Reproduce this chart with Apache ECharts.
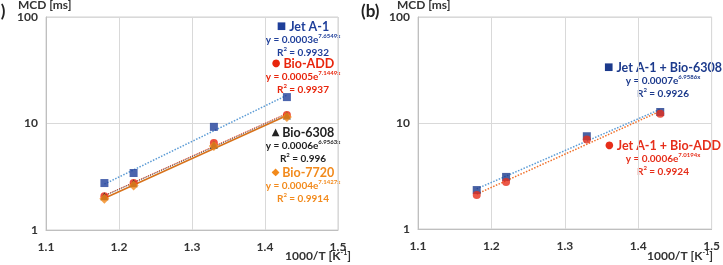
<!DOCTYPE html>
<html>
<head>
<meta charset="utf-8">
<script src="https://cdn.jsdelivr.net/npm/echarts@6/dist/echarts.min.js"></script>
<style>
  html, body { margin: 0; padding: 0; background: #fff; }
  #chart { width: 723px; height: 265px; }
</style>
</head>
<body>
<div id="chart"></div>
<script>
// 1000/T values (same for every fuel)
const invT = [1.18, 1.22, 1.33, 1.43];

// panel (a) MCD [ms]
const jetA1 = [2.76, 3.43, 9.3, 17.7];
const bioADD = [2.08, 2.76, 6.55, 12.0];
const bio6308 = [2.07, 2.75, 6.3, 11.9];
const bio7720 = [1.96, 2.62, 6.15, 11.5];

// panel (b) MCD [ms]
const jetBio6308 = [2.33, 3.1, 7.5, 12.7];
const jetBioADD = [2.09, 2.78, 7.0, 12.2];

const FONT = 'Lato';

// exponential trend line (least squares on ln y), drawn between first and last x
function expTrend(xs, ys) {
  const n = xs.length;
  const ly = ys.map(v => Math.log(v));
  const mx = xs.reduce((a, b) => a + b, 0) / n;
  const my = ly.reduce((a, b) => a + b, 0) / n;
  let sxy = 0, sxx = 0;
  xs.forEach((x, i) => { sxy += (x - mx) * (ly[i] - my); sxx += (x - mx) * (x - mx); });
  const b = sxy / sxx, a = my - b * mx;
  return [xs[0], xs[n - 1]].map(x => [x, Math.exp(a + b * x)]);
}
const pairs = ys => invT.map((x, i) => [x, ys[i]]);

function xAxis(idx) {
  return {
    type: 'value', gridIndex: idx, min: 1.1, max: 1.5, interval: 0.1,
    axisLine: { show: true, lineStyle: { color: '#bfbfbf' } },
    axisTick: { show: false },
    splitLine: { show: true, lineStyle: { color: '#d9d9d9' } },
    axisLabel: {
      formatter: v => v.toFixed(1), color: '#333', fontFamily: FONT,
      fontWeight: 'bold', fontSize: 12, margin: 11
    }
  };
}
function yAxis(idx) {
  return {
    type: 'log', logBase: 10, gridIndex: idx, min: 1, max: 100,
    axisLine: { show: true, lineStyle: { color: '#bfbfbf' } },
    axisTick: { show: false },
    minorTick: { show: false },
    splitLine: { show: true, lineStyle: { color: '#d9d9d9' } },
    axisLabel: {
      color: '#333', fontFamily: FONT, fontWeight: 'bold', fontSize: 12, margin: 8
    }
  };
}
function trend(idx, ys, color, type, width) {
  return {
    type: 'line', xAxisIndex: idx, yAxisIndex: idx, data: expTrend(invT, ys),
    symbol: 'none', silent: true, z: 1,
    lineStyle: { color: color, type: type, width: width }
  };
}
function points(idx, ys, symbol, size, color) {
  return {
    type: 'scatter', xAxisIndex: idx, yAxisIndex: idx, data: pairs(ys),
    symbol: symbol, symbolSize: size, itemStyle: { color: color }, z: 3
  };
}

// legend block centred on x: marker+name, equation with superscript, R²
function legendText(x, y, color, marker, name, coef, expo, r2) {
  const base = { fill: color, fontFamily: FONT, fontWeight: 'bold', lineHeight: 13 };
  return {
    type: 'text', x: x, y: y,
    style: {
      text: '{m|' + marker + '} {n|' + name + '}\n{e|y = ' + coef + 'e}{s|' + expo + '}\n{e|R}{s|2}{e| = ' + r2 + '}',
      align: 'center', verticalAlign: 'top', fill: color, fontFamily: FONT, fontWeight: 'bold',
      rich: {
        m: Object.assign({}, base, { fontSize: 10, fontFamily: 'DejaVu Sans' }),
        n: Object.assign({}, base, { fontSize: 12.5 }),
        e: Object.assign({}, base, { fontSize: 10 }),
        s: Object.assign({}, base, { fontSize: 6, verticalAlign: 'top' })
      }
    }
  };
}
function axisName(x, y, text) {
  return { type: 'text', x: x, y: y, style: { text: text, fontSize: 12, fontWeight: 'bold', fontFamily: FONT, fill: '#333',
    rich: { s: { fontSize: 7, fontWeight: 'bold', fontFamily: FONT, fill: '#333', verticalAlign: 'top', lineHeight: 14 },
            t: { fontSize: 12, fontWeight: 'bold', fontFamily: FONT, fill: '#333', lineHeight: 14 } } } };
}

const chart = echarts.init(document.getElementById('chart'));
chart.setOption({
  animation: false,
  backgroundColor: '#fff',
  grid: [
    { left: 46, right: 385, top: 17, bottom: 35, show: true, borderColor: '#d0d0d0', borderWidth: 1 },
    { left: 418, right: 10, top: 17, bottom: 36, show: true, borderColor: '#d0d0d0', borderWidth: 1 }
  ],
  xAxis: [xAxis(0), xAxis(1)],
  yAxis: [yAxis(0), yAxis(1)],
  series: [
    trend(0, jetA1, '#5b9bd5', 'dotted', 1.5),
    trend(0, bioADD, '#e8300f', 'dotted', 1),
    trend(0, bio6308, '#555555', 'dotted', 1),
    trend(0, bio7720, '#d8731c', 'solid', 1.8),
    points(0, jetA1, 'rect', 8, '#1f3f9a'),
    points(0, bioADD, 'circle', 8, '#e8250c'),
    points(0, bio6308, 'triangle', 8, '#222222'),
    points(0, bio7720, 'diamond', 10, '#f28a1c'),
    trend(1, jetBio6308, '#5b9bd5', 'dotted', 1.5),
    trend(1, jetBioADD, '#f0702a', 'dotted', 1.5),
    points(1, jetBio6308, 'rect', 8, '#1c3a8c'),
    points(1, jetBioADD, 'circle', 8, '#e62e1a')
  ],
  graphic: [
    { type: 'text', x: -12, y: 3, style: { text: '(a)', fontSize: 17, fontWeight: 'bold', fontFamily: FONT, fill: '#222' } },
    { type: 'text', x: 18, y: -1, style: { text: 'MCD [ms]', fontSize: 12, fontWeight: 'bold', fontFamily: FONT, fill: '#333' } },
    axisName(285, 249, '{t|1000/T [K}{s|-1}{t|]}'),
    { type: 'text', x: 361, y: 3, style: { text: '(b)', fontSize: 17, fontWeight: 'bold', fontFamily: FONT, fill: '#222' } },
    { type: 'text', x: 397, y: -1, style: { text: 'MCD [ms]', fontSize: 12, fontWeight: 'bold', fontFamily: FONT, fill: '#333' } },
    axisName(647, 249, '{t|1000/T [K}{s|-1}{t|]}'),
    legendText(303, 20, '#1f3f9a', '■', 'Jet A-1', '0.0003', '7.6549x', '0.9932'),
    legendText(303, 57, '#e8250c', '●', 'Bio-ADD', '0.0005', '7.1449x', '0.9937'),
    legendText(303, 126, '#222222', '▲', 'Bio-6308', '0.0006', '6.9563x', '0.996'),
    legendText(303, 166, '#f28a1c', '◆', 'Bio-7720', '0.0004', '7.1427x', '0.9914'),
    legendText(663, 61, '#1c3a8c', '■', 'Jet A-1 + Bio-6308', '0.0007', '6.9586x', '0.9926'),
    legendText(663, 139, '#e62e1a', '●', 'Jet A-1 + Bio-ADD', '0.0006', '7.0194x', '0.9924')
  ]
});
</script>
</body>
</html>
